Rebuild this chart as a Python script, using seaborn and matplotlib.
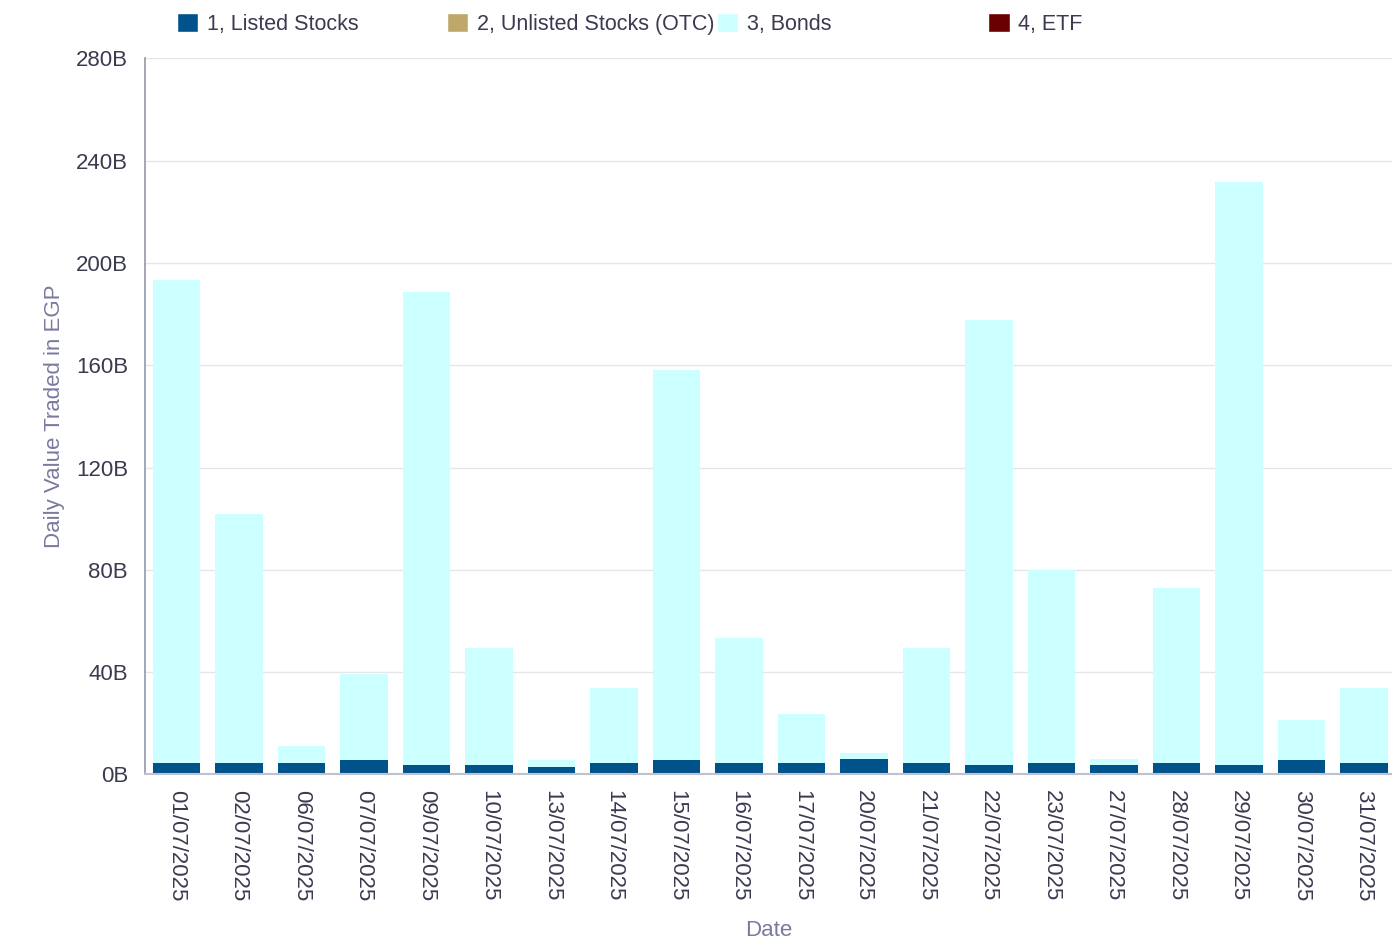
import numpy as np
import pandas as pd
import seaborn as sns
import matplotlib.pyplot as plt
from matplotlib.patches import Patch
from matplotlib.ticker import FuncFormatter

dates = ["01/07/2025", "02/07/2025", "06/07/2025", "07/07/2025", "09/07/2025",
         "10/07/2025", "13/07/2025", "14/07/2025", "15/07/2025", "16/07/2025",
         "17/07/2025", "20/07/2025", "21/07/2025", "22/07/2025", "23/07/2025",
         "27/07/2025", "28/07/2025", "29/07/2025", "30/07/2025", "31/07/2025"]

# values in billions EGP
listed = [4.6, 4.6, 4.6, 5.5, 3.8, 3.8, 2.9, 4.6, 5.5, 4.6,
          4.6, 6.0, 4.6, 3.8, 4.6, 3.8, 4.6, 3.8, 5.5, 4.6]
otc = [0.02, 0.02, 0.01, 0.02, 0.02, 0.01, 0.01, 0.02, 0.02, 0.01,
       0.01, 0.01, 0.02, 0.02, 0.01, 0.01, 0.02, 0.02, 0.01, 0.01]
bonds = [188.6, 97.1, 6.4, 33.6, 184.7, 45.5, 2.5, 29.0, 152.5, 48.6,
         18.9, 2.5, 44.7, 173.7, 75.2, 2.2, 68.1, 227.7, 15.6, 29.0]
etf = [0.01, 0.01, 0.0, 0.01, 0.01, 0.0, 0.0, 0.01, 0.01, 0.0,
       0.0, 0.0, 0.01, 0.01, 0.0, 0.0, 0.01, 0.01, 0.0, 0.0]

series = ["1, Listed Stocks", "2, Unlisted Stocks (OTC)", "3, Bonds", "4, ETF"]
colors = ["#00538a", "#bfa76a", "#ccffff", "#6b0000"]

sns.set_theme(style="whitegrid")
plt.rcParams["font.family"] = ["Liberation Sans", "DejaVu Sans"]

df = pd.DataFrame({"Date": dates, series[0]: listed, series[1]: otc,
                   series[2]: bonds, series[3]: etf})

fig = plt.figure(figsize=(13.92, 9.42), dpi=100)
ax = fig.add_axes([0.104, 0.178, 0.896, 0.760])

bottom = np.zeros(len(dates))
for name, col in zip(series, colors):
    sns.barplot(data=df, x="Date", y=name, color=col, bottom=bottom, ax=ax,
                width=0.76, linewidth=0.0, saturation=1)
    bottom = bottom + df[name].values

ax.set_ylim(0, 280)
ax.set_yticks(np.arange(0, 281, 40))
ax.yaxis.set_major_formatter(FuncFormatter(lambda v, p: f"{int(v)}B"))
ax.set_xlim(-0.505, len(dates) - 0.55)

ax.grid(axis="x", visible=False)
ax.grid(axis="y", color="#e6e6e6", linewidth=1)
for s in ["top", "right"]:
    ax.spines[s].set_visible(False)
ax.spines["left"].set_color("#9a9ab0")
ax.spines["bottom"].set_color("#c0c0d0")
ax.spines["bottom"].set_linewidth(1.5)

ax.tick_params(axis="x", labelrotation=-90, labelsize=16, colors="#3a3a50", pad=5)
ax.tick_params(axis="y", labelsize=16, colors="#3a3a50", pad=6)
ax.set_xlabel("Date", fontsize=16, color="#7a7aa0", labelpad=14)
ax.set_ylabel("Daily Value Traded in EGP", fontsize=16, color="#7a7aa0", labelpad=8)

xs = [0.127, 0.321, 0.515, 0.710]
for name, col, x in zip(series, colors, xs):
    fig.legend(handles=[Patch(facecolor=col, label=name)], loc="center left",
               bbox_to_anchor=(x, 0.975), frameon=False, fontsize=15.5,
               handlelength=1.0, handleheight=1.0, handletextpad=0.4,
               borderaxespad=0, borderpad=0, labelcolor="#3a3a50")

fig.savefig("out.png", dpi=100)
